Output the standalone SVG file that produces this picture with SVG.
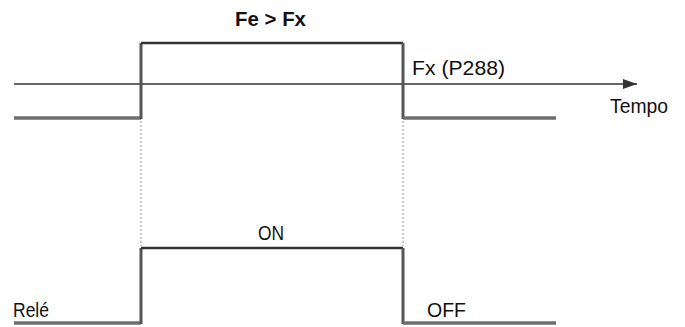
<svg xmlns="http://www.w3.org/2000/svg" width="685" height="327" viewBox="0 0 685 327">
  <style>
    .t { font-family: "Liberation Sans", Arial, sans-serif; font-size: 19.5px; fill: #111; }
    .b { font-weight: bold; font-size: 20px; }
    .low { stroke: #6e6e6e; stroke-width: 3.5; fill: none; }
    .high { stroke: #333; stroke-width: 2.5; fill: none; }
    .edge { stroke: #555; stroke-width: 3; fill: none; }
    .dot { stroke: #bbb; stroke-width: 1.5; stroke-dasharray: 2 2; fill: none; }
    .axis { stroke: #666; stroke-width: 2; fill: none; }
  </style>
  <defs>
    <marker id="arr" viewBox="0 0 14 10" refX="14" refY="5" markerWidth="14" markerHeight="10" markerUnits="userSpaceOnUse" orient="auto">
      <path d="M0,0 L14,5 L0,10 Z" fill="#333"/>
    </marker>
  </defs>
  <g id="connectors">
    <line class="axis" x1="14" y1="84" x2="637" y2="84" marker-end="url(#arr)"/>
    <line class="dot" x1="141" y1="121" x2="141" y2="246"/>
    <line class="dot" x1="403" y1="121" x2="403" y2="246"/>
  </g>
  <g id="signal-fe">
    <line class="low" x1="14" y1="118" x2="141" y2="118"/>
    <line class="edge" x1="141" y1="119" x2="141" y2="43"/>
    <line class="high" x1="141" y1="43" x2="403" y2="43"/>
    <line class="edge" x1="403" y1="43" x2="403" y2="119"/>
    <line class="low" x1="403" y1="118" x2="556" y2="118"/>
  </g>
  <g id="signal-rele">
    <line class="low" x1="14" y1="323" x2="141" y2="323"/>
    <line class="edge" x1="141" y1="324" x2="141" y2="248"/>
    <line class="high" x1="141" y1="248" x2="403" y2="248"/>
    <line class="edge" x1="403" y1="248" x2="403" y2="324"/>
    <line class="low" x1="403" y1="323" x2="556" y2="323"/>
  </g>
  <g id="labels">
    <text class="t b" x="235" y="26" textLength="71" lengthAdjust="spacingAndGlyphs">Fe &gt; Fx</text>
    <text class="t" x="412" y="75" textLength="93" lengthAdjust="spacingAndGlyphs">Fx (P288)</text>
    <text class="t" x="610" y="113" textLength="58" lengthAdjust="spacingAndGlyphs">Tempo</text>
    <text class="t" x="258" y="240" textLength="26" lengthAdjust="spacingAndGlyphs">ON</text>
    <text class="t" x="13" y="317" textLength="36" lengthAdjust="spacingAndGlyphs">Relé</text>
    <text class="t" x="427" y="317" textLength="39" lengthAdjust="spacingAndGlyphs">OFF</text>
  </g>
</svg>
